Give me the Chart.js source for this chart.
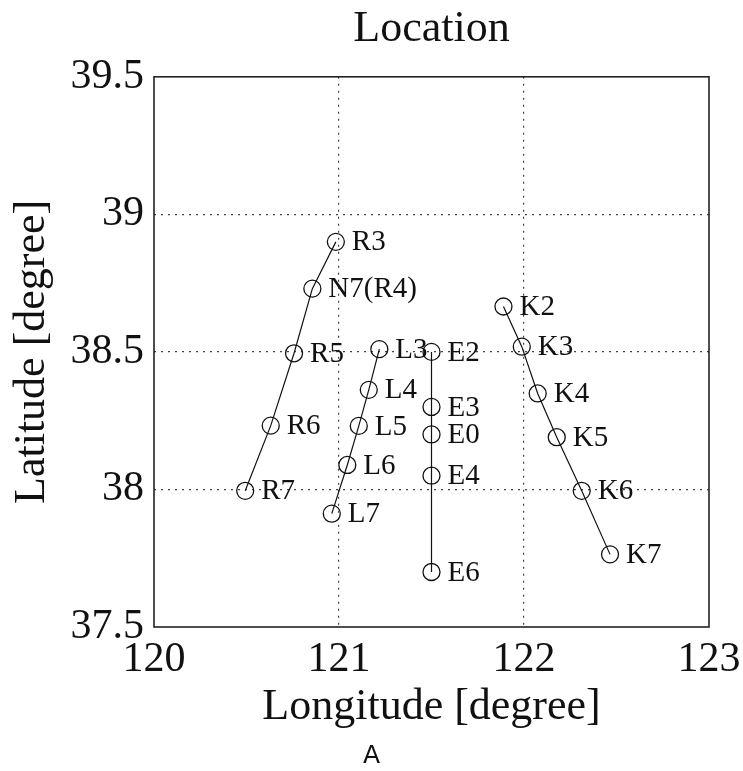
<!DOCTYPE html>
<html>
<head>
<meta charset="utf-8">
<script src="https://cdn.jsdelivr.net/npm/chart.js@4/dist/chart.umd.min.js"></script>
<style>
  body { margin: 0; background: #fff; }
  .wrap { position: relative; width: 743px; height: 771px; }
  canvas { display: block; }
  .caption { position: absolute; left: 0; top: 740px; width: 743px; text-align: center;
             font: 25px 'DejaVu Sans', sans-serif; color: #111; }
</style>
</head>
<body>
<div class="wrap">
<canvas id="locChart" width="743" height="771"></canvas>
<div class="caption">A</div>
</div>
<script>
// station positions (longitude, latitude)
const rNames = ["R3", "N7(R4)", "R5", "R6", "R7"];
const rLon = [120.983, 120.856, 120.757, 120.631, 120.493];
const rLat = [38.90, 38.73, 38.495, 38.232, 37.995];

const lNames = ["L3", "L4", "L5", "L6", "L7"];
const lLon = [121.218, 121.161, 121.107, 121.045, 120.961];
const lLat = [38.51, 38.362, 38.231, 38.089, 37.912];

const eNames = ["E2", "E3", "E0", "E4", "E6"];
const eLon = [121.5, 121.5, 121.5, 121.5, 121.5];
const eLat = [38.50, 38.30, 38.20, 38.05, 37.70];

const kNames = ["K2", "K3", "K4", "K5", "K6", "K7"];
const kLon = [121.889, 121.988, 122.074, 122.177, 122.312, 122.465];
const kLat = [38.665, 38.519, 38.349, 38.19, 37.995, 37.764];

const xTicks = ["120", "121", "122", "123"];
const yTicks = ["37.5", "38", "38.5", "39", "39.5"];

const serif = "'Liberation Serif', 'Times New Roman', serif";

function makeSet(names, lon, lat) {
    return {
        names: names,
        data: lon.map((x, i) => ({ x: x, y: lat[i] })),
        showLine: true,
        borderColor: "#111",
        borderWidth: 1.2,
        pointStyle: "circle",
        pointRadius: 8.5,
        pointBorderWidth: 1.3,
        pointBorderColor: "#111",
        pointBackgroundColor: "rgba(0,0,0,0)"
    };
}

// station names next to the markers, box around the plot
const extras = {
    id: "extras",
    afterDatasetsDraw(chart) {
        const ctx = chart.ctx;
        ctx.save();
        ctx.fillStyle = "#111";
        ctx.font = "29px " + serif;
        ctx.textBaseline = "middle";
        ctx.textAlign = "left";
        chart.data.datasets.forEach((ds, i) => {
            chart.getDatasetMeta(i).data.forEach((pt, j) => {
                ctx.fillText(ds.names[j], pt.x + 16, pt.y + 1);
            });
        });
        const a = chart.chartArea;
        ctx.strokeStyle = "#222";
        ctx.lineWidth = 1.6;
        ctx.strokeRect(a.left, a.top, a.right - a.left, a.bottom - a.top);
        ctx.restore();
    }
};

const gridColor = c => (c.index === 0 || c.index === c.scale.ticks.length - 1) ? "rgba(0,0,0,0)" : "#444";

new Chart(document.getElementById("locChart"), {
    type: "scatter",
    data: {
        datasets: [
            makeSet(rNames, rLon, rLat),
            makeSet(lNames, lLon, lLat),
            makeSet(eNames, eLon, eLat),
            makeSet(kNames, kLon, kLat)
        ]
    },
    options: {
        responsive: false,
        animation: false,
        layout: { padding: { left: 0, right: 34, top: 0, bottom: 34 } },
        plugins: {
            legend: { display: false },
            tooltip: { enabled: false },
            title: {
                display: true,
                text: "Location",
                fullSize: false,
                color: "#111",
                font: { family: serif, size: 44, weight: "normal" },
                padding: { top: 3, bottom: 21 }
            }
        },
        scales: {
            x: {
                type: "linear",
                min: 120, max: 123,
                afterFit: s => { s.height = 110; s.paddingLeft = 0; s.paddingRight = 0; },
                ticks: {
                    stepSize: 1,
                    padding: 8,
                    color: "#111",
                    font: { family: serif, size: 42 },
                    callback: (v, i) => xTicks[i]
                },
                grid: { color: gridColor, lineWidth: 1.2, drawTicks: false },
                border: { display: false, dash: [2, 5] },
                title: {
                    display: true,
                    text: "Longitude [degree]",
                    color: "#111",
                    font: { family: serif, size: 44 },
                    padding: { top: 0, bottom: 3 }
                }
            },
            y: {
                type: "linear",
                min: 37.5, max: 39.5,
                afterFit: s => { s.width = 154; },
                ticks: {
                    stepSize: 0.5,
                    padding: 10,
                    color: "#111",
                    font: { family: serif, size: 42 },
                    callback: (v, i) => yTicks[i]
                },
                grid: { color: gridColor, lineWidth: 1.2, drawTicks: false },
                border: { display: false, dash: [2, 5] },
                title: {
                    display: true,
                    text: "Latitude [degree]",
                    color: "#111",
                    font: { family: serif, size: 44 },
                    padding: { top: 6, bottom: 0 }
                }
            }
        }
    },
    plugins: [extras]
});
</script>
</body>
</html>
